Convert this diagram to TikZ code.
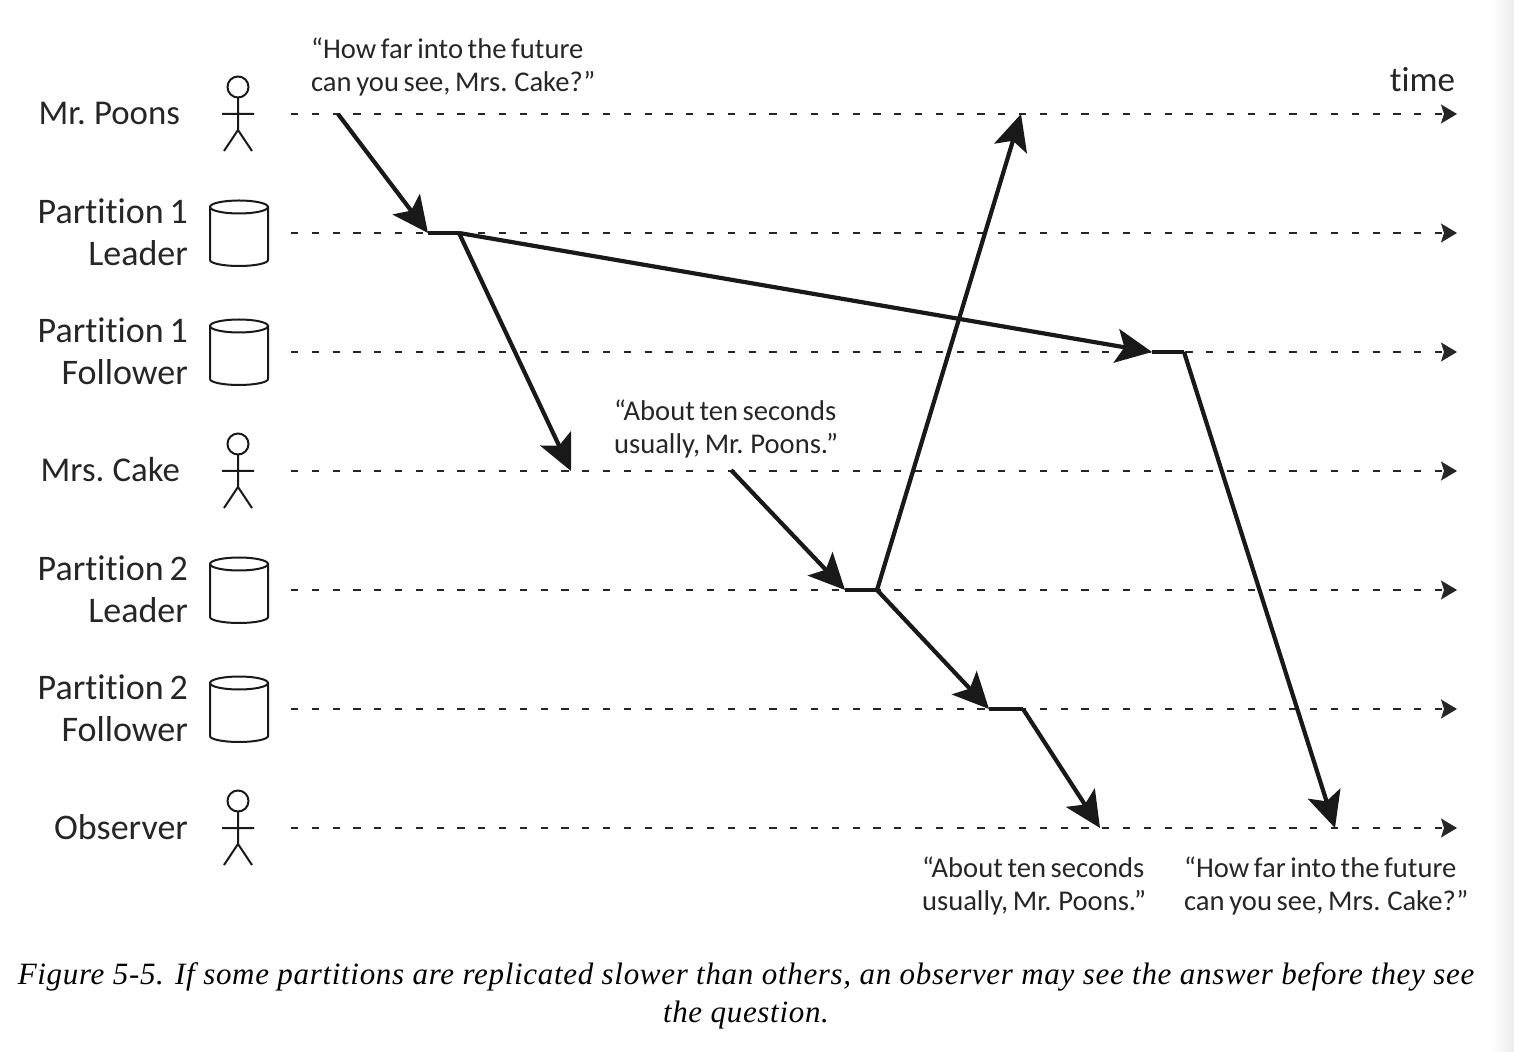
\documentclass[tikz,border=0pt]{standalone}
\usepackage{fontspec}
\setmainfont{Carlito}[Ligatures=NoCommon, WordSpace=0.72]
\newfontfamily\capfont[LetterSpace=2.2]{Liberation Serif}
\usetikzlibrary{arrows.meta}

\tikzset{
    timeline/.style={-{Stealth[length=8pt,width=9.5pt,inset=1.5pt]}, line width=0.7pt, dash pattern=on 3.6pt off 6.8pt, color=black!85},
    message/.style={-{Stealth[length=18pt,width=17pt,inset=4pt]}, line width=2.1pt, color=black!90},
    wait/.style={line width=2.1pt, color=black!90},
    rowlabel/.style={anchor=east, align=right, text=black!85, font=\fontsize{18}{21}\selectfont},
    quote/.style={anchor=west, align=left, text=black!85, font=\fontsize{14.3}{16.5}\selectfont},
    person/.pic={
        \draw[line width=1pt, color=black!90] (0, -27) circle (10.5);
        \draw[line width=1pt, color=black!90] (0, -16) -- (0, 16) (-16, 0) -- (16, 0) (-14, 37) -- (0, 16) -- (14, 37);
    },
    store/.pic={
        \draw[line width=1pt, color=black!90] (0, -26) ellipse (29 and 6.5);
        \draw[line width=1pt, color=black!90] (-29, -26) -- (-29, 27) arc[x radius=29, y radius=6, start angle=180, end angle=0] -- (29, -26);
    }
}

\begin{document}
\begin{tikzpicture}[x=0.5pt, y=-0.5pt]

\useasboundingbox (0, 0) rectangle (1514, 1052);

% page edge
\shade[left color=white, right color=black!7] (1490, 0) rectangle (1514, 1052);

% draw timelines
\foreach \row/\y in {poons/114, pone/233, fone/352, cake/471, ptwo/590, ftwo/709, observer/828}
{
    \coordinate (\row start) at (291, \y);
    \coordinate (\row end) at (1457, \y);
    \draw[timeline] (\row start) -- (\row end);
}

% draw people and partitions
\foreach \y in {114, 471, 828}
{
    \pic at (238, \y) {person};
}
\foreach \y in {233, 352, 590, 709}
{
    \pic at (239, \y) {store};
}

% draw row labels
\node[rowlabel, font=\fontsize{17.4}{21}\selectfont] (poonslabel) at (187, 113) {Mr. Poons};
\node[rowlabel] (ponelabel) at (195, 232) {Partition 1\\Leader};
\node[rowlabel] (fonelabel) at (195, 351) {Partition 1\\Follower};
\node[rowlabel, font=\fontsize{17.4}{21}\selectfont] (cakelabel) at (187, 470) {Mrs. Cake};
\node[rowlabel] (ptwolabel) at (195, 589) {Partition 2\\Leader};
\node[rowlabel] (ftwolabel) at (195, 708) {Partition 2\\Follower};
\node[rowlabel] (observerlabel) at (195, 827) {Observer};
\node[rowlabel, font=\fontsize{17.5}{20}\selectfont] (timelabel) at (1462, 80) {time};

% draw quotes
\node[quote] (askq) at (304, 67) {“How far into the future\\can you see, Mrs. Cake?”};
\node[quote] (answerq) at (607, 429) {“About ten seconds\\usually, Mr. Poons.”};
\node[quote] (seenanswer) at (915, 886) {“About ten seconds\\usually, Mr. Poons.”};
\node[quote] (seenask) at (1177, 886) {“How far into the future\\can you see, Mrs. Cake?”};

% message end points
\coordinate (ask) at (338, 114);
\coordinate (ponein) at (428, 233);
\coordinate (poneout) at (459, 233);
\coordinate (foneinn) at (1152, 352);
\coordinate (foneout) at (1184, 352);
\coordinate (cakein) at (571, 471);
\coordinate (answer) at (731, 470);
\coordinate (ptwoin) at (845, 590);
\coordinate (ptwoout) at (877, 590);
\coordinate (poonsin) at (1021, 114);
\coordinate (ftwoin) at (989, 709);
\coordinate (ftwoout) at (1023, 709);
\coordinate (obsanswer) at (1100, 828);
\coordinate (obsask) at (1335, 828);

% draw messages
\draw[message] (ask) -- (ponein);
\draw[wait] (ponein) -- (poneout);
\draw[message] (poneout) -- (foneinn);
\draw[message] (poneout) -- (cakein);
\draw[wait] (foneinn) -- (foneout);
\draw[message] (foneout) -- (obsask);
\draw[message] (answer) -- (ptwoin);
\draw[wait] (ptwoin) -- (ptwoout);
\draw[message] (ptwoout) -- (poonsin);
\draw[message] (ptwoout) -- (ftwoin);
\draw[wait] (ftwoin) -- (ftwoout);
\draw[message] (ftwoout) -- (obsanswer);

% draw caption
\node[align=center, font=\capfont\itshape\fontsize{15.5}{19}\selectfont] (caption) at (746, 996) {Figure 5-5. If some partitions are replicated slower than others, an observer may see the answer before they see\\the question.};

\end{tikzpicture}
\end{document}
